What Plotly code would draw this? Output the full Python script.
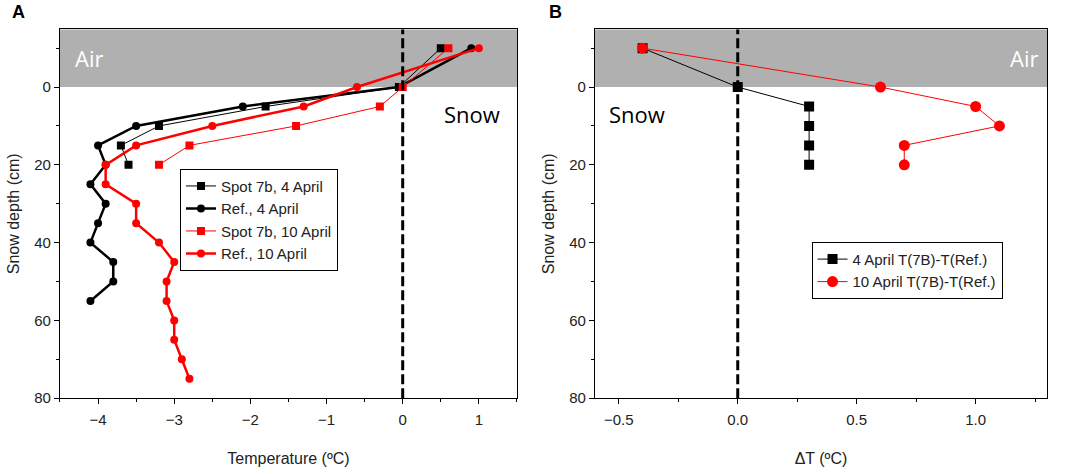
import plotly.graph_objects as go
from plotly.subplots import make_subplots

# Panel A - temperature profiles
depth_spot = [-10, 0, 5, 10, 15, 20]
depth_ref = [-10, 0, 5, 10, 15, 20, 25, 30, 35, 40, 45, 50, 55]
depth_ref10 = [-10, 0, 5, 10, 15, 20, 25, 30, 35, 40, 45, 50, 55, 60, 65, 70, 75]

spot_4apr = [0.5, -0.05, -1.8, -3.2, -3.7, -3.6]
ref_4apr = [0.9, -0.05, -2.1, -3.5, -4.0, -3.9, -4.1, -3.9, -4.0, -4.1, -3.8, -3.8, -4.1]
spot_10apr = [0.6, 0.0, -0.3, -1.4, -2.8, -3.2]
ref_10apr = [1.0, -0.6, -1.3, -2.5, -3.5, -3.9, -3.9, -3.5, -3.5, -3.2, -3.0, -3.1, -3.1,
             -3.0, -3.0, -2.9, -2.8]

# Panel B - differences
dt_4apr = [-0.4, 0.0, 0.3, 0.3, 0.3, 0.3]
dt_10apr = [-0.4, 0.6, 1.0, 1.1, 0.7, 0.7]

BLACK = "black"
RED = "#ff0000"
SANS = "Liberation Sans, Arial"
TICKFONT = dict(family=SANS, size=15, color="#222")
TITLEFONT = dict(family=SANS, size=16, color="#222")

fig = make_subplots(rows=1, cols=2)

fig.add_trace(go.Scatter(x=spot_4apr, y=depth_spot, mode="lines+markers", name="Spot 7b, 4 April",
                         line=dict(color=BLACK, width=1), marker=dict(symbol="square", size=8, color=BLACK),
                         legend="legend"), 1, 1)
fig.add_trace(go.Scatter(x=ref_4apr, y=depth_ref, mode="lines+markers", name="Ref., 4 April",
                         line=dict(color=BLACK, width=2.5), marker=dict(symbol="circle", size=8, color=BLACK),
                         legend="legend"), 1, 1)
fig.add_trace(go.Scatter(x=spot_10apr, y=depth_spot, mode="lines+markers", name="Spot 7b, 10 April",
                         line=dict(color=RED, width=1), marker=dict(symbol="square", size=8, color=RED),
                         legend="legend"), 1, 1)
fig.add_trace(go.Scatter(x=ref_10apr, y=depth_ref10, mode="lines+markers", name="Ref., 10 April",
                         line=dict(color=RED, width=2.5), marker=dict(symbol="circle", size=8, color=RED),
                         legend="legend"), 1, 1)

fig.add_trace(go.Scatter(x=dt_4apr, y=depth_spot, mode="lines+markers", name="4 April T(7B)-T(Ref.)",
                         line=dict(color=BLACK, width=1), marker=dict(symbol="square", size=10, color=BLACK),
                         legend="legend2"), 1, 2)
fig.add_trace(go.Scatter(x=dt_10apr, y=depth_spot, mode="lines+markers", name="10 April T(7B)-T(Ref.)",
                         line=dict(color=RED, width=1), marker=dict(symbol="circle", size=11, color=RED),
                         legend="legend2"), 1, 2)

# grey "air" band and dashed zero line
for xr, yr in [("x", "y"), ("x2", "y2")]:
    fig.add_shape(type="rect", xref=xr + " domain", yref=yr, x0=0, x1=1, y0=-15, y1=0,
                  fillcolor="#b0b0b0", line_width=0, layer="below")
    fig.add_shape(type="line", xref=xr, yref=yr + " domain", x0=0, x1=0, y0=0, y1=1,
                  line=dict(color=BLACK, width=3, dash="10px,4px"))

axis_common = dict(showline=True, linecolor=BLACK, linewidth=1.2, mirror=True, ticks="outside",
                   ticklen=5, tickcolor=BLACK, showgrid=False, zeroline=False, tickfont=TICKFONT)

fig.update_xaxes(range=[-4.5, 1.5], tickvals=[-4, -3, -2, -1, 0, 1],
                 ticktext=["\u22124", "\u22123", "\u22122", "\u22121", "0", "1"],
                 minor=dict(ticks="outside", dtick=0.5, ticklen=3, tickcolor=BLACK),
                 title=dict(text="Temperature (\u00baC)", font=TITLEFONT, standoff=25),
                 ticklabelstandoff=3,
                 domain=[0.0563, 0.4854], **axis_common, row=1, col=1)
fig.update_xaxes(range=[-0.6, 1.3], tickvals=[-0.5, 0.0, 0.5, 1.0],
                 ticktext=["\u22120.5", "0.0", "0.5", "1.0"],
                 minor=dict(ticks="outside", dtick=0.25, ticklen=3, tickcolor=BLACK),
                 title=dict(text="\u0394T (\u00baC)", font=TITLEFONT, standoff=25),
                 ticklabelstandoff=3,
                 domain=[0.5587, 0.9831], **axis_common, row=1, col=2)
for c in (1, 2):
    fig.update_yaxes(range=[80, -14.8], tickvals=[0, 20, 40, 60, 80],
                     minor=dict(ticks="outside", dtick=10, ticklen=3, tickcolor=BLACK),
                     title=dict(text="Snow depth (cm)", font=TITLEFONT, standoff=10),
                     domain=[0.1456, 0.9367], **axis_common, row=1, col=c)

TEXTFONT = "Open Sans, Noto Sans"
fig.add_annotation(text="Air", xref="x domain", yref="y", x=0.028, y=-7.5, xanchor="left", showarrow=False,
                   font=dict(family=TEXTFONT, size=22, color="white"))
fig.add_annotation(text="Snow", xref="x domain", yref="y", x=0.967, y=7, xanchor="right", showarrow=False,
                   font=dict(family=TEXTFONT, size=22, color=BLACK))
fig.add_annotation(text="Air", xref="x2 domain", yref="y2", x=0.985, y=-7.5, xanchor="right", showarrow=False,
                   font=dict(family=TEXTFONT, size=22, color="white"))
fig.add_annotation(text="Snow", xref="x2 domain", yref="y2", x=0.027, y=7, xanchor="left", showarrow=False,
                   font=dict(family=TEXTFONT, size=22, color=BLACK))
fig.add_annotation(text="<b>A</b>", xref="paper", yref="paper", x=0.009, y=1.0, xanchor="left", yanchor="top",
                   showarrow=False, font=dict(family=SANS, size=18, color=BLACK))
fig.add_annotation(text="<b>B</b>", xref="paper", yref="paper", x=0.514, y=1.0, xanchor="left", yanchor="top",
                   showarrow=False, font=dict(family=SANS, size=18, color=BLACK))

legend_style = dict(bgcolor="white", bordercolor=BLACK, borderwidth=1, tracegroupgap=0,
                    font=dict(family=SANS, size=15, color="#222"),
                    xanchor="left", yanchor="top", itemwidth=30)
fig.update_layout(
    width=1065, height=474,
    margin=dict(l=0, r=0, t=0, b=0),
    plot_bgcolor="white", paper_bgcolor="white",
    legend=dict(x=0.169, y=0.638, **legend_style),
    legend2=dict(x=0.762, y=0.481, **legend_style),
)

# the page body has a default 8px margin; drop it so the figure fills the window
fig.write_html("out.html", config={"displayModeBar": False},
               post_script="document.body.style.margin = '0px';")
